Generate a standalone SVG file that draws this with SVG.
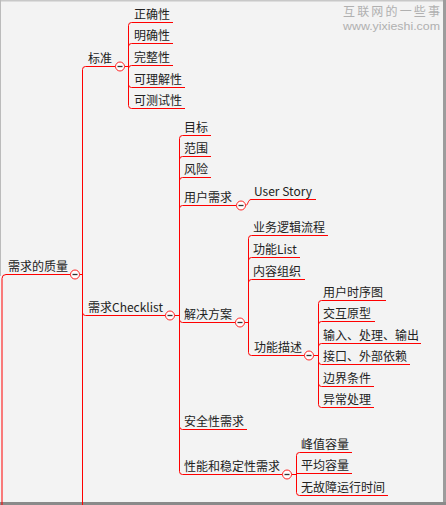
<svg xmlns="http://www.w3.org/2000/svg" width="446" height="505" viewBox="0 0 446 505">
<style>
.t{font-family:"Noto Sans CJK SC","Noto Sans",sans-serif;font-size:12px;fill:#222}
.ln{fill:none;stroke:#ff0000;stroke-width:1}
.c{fill:#fff;stroke:#ff2020;stroke-width:1}
.m{stroke:#333;stroke-width:1.3}
.wm{fill:#b0b0b0}
</style>
<defs>
<g id="col"><circle class="c" cx="0" cy="0" r="4.5"/><line class="m" x1="-2.5" y1="0" x2="2.5" y2="0"/></g>
</defs>
<rect x="0" y="0" width="446" height="505" fill="#f3f3f3"/>
<rect x="0" y="0" width="446" height="1.5" fill="#c8c8c8"/>
<rect x="443" y="0" width="3" height="505" fill="#9c9c9c"/>
<rect x="0" y="502" width="446" height="3" fill="#8a8a8a"/>
<line x1="0.5" y1="0" x2="0.5" y2="276" stroke="#bbbbbb" stroke-width="1"/>
<g id="watermark">
<text class="wm" x="343" y="16" font-family="'Noto Sans CJK SC', sans-serif" font-size="12" textLength="97" lengthAdjust="spacing">互联网的一些事</text>
<text class="wm" x="343" y="29.5" font-family="'Liberation Sans', sans-serif" font-size="11" textLength="97" lengthAdjust="spacingAndGlyphs">www.yixieshi.com</text>
</g>
<g id="connectors">
<path class="ln" d="M2,505 V278.5 Q2,274.5 6,274.5 H70.5" stroke-width="1.5"/>
<line class="ln" x1="79.5" y1="274.5" x2="82.5" y2="274.5"/>
<path class="ln" d="M82.5,505 V69.5"/>
<path class="ln" d="M82.5,69.5 Q82.5,66.5 85.5,66.5 H115.5"/>
<path class="ln" d="M82.5,312.5 Q82.5,315.5 85.5,315.5 H165.5"/>
<line class="ln" x1="124.5" y1="66.5" x2="128.5" y2="66.5"/>
<path class="ln" d="M128.5,25.5 V105.5"/>
<path class="ln" d="M128.5,25.5 Q128.5,22.5 131.5,22.5 H173"/>
<path class="ln" d="M128.5,46.5 Q128.5,43.5 131.5,43.5 H173"/>
<path class="ln" d="M128.5,68.5 Q128.5,65.5 131.5,65.5 H173"/>
<path class="ln" d="M128.5,84.5 Q128.5,87.5 131.5,87.5 H185"/>
<path class="ln" d="M128.5,105.5 Q128.5,108.5 131.5,108.5 H185"/>
<line class="ln" x1="174.5" y1="315.5" x2="179.5" y2="315.5"/>
<path class="ln" d="M179.5,138.5 V471.5"/>
<path class="ln" d="M179.5,138.5 Q179.5,135.5 182.5,135.5 H211"/>
<path class="ln" d="M179.5,159.5 Q179.5,156.5 182.5,156.5 H211"/>
<path class="ln" d="M179.5,180.5 Q179.5,177.5 182.5,177.5 H211"/>
<path class="ln" d="M179.5,208.5 Q179.5,205.5 182.5,205.5 H236.5"/>
<path class="ln" d="M179.5,319.5 Q179.5,322.5 182.5,322.5 H235.5"/>
<path class="ln" d="M179.5,426.5 Q179.5,429.5 182.5,429.5 H247"/>
<path class="ln" d="M179.5,471.5 Q179.5,474.5 182.5,474.5 H282.5"/>
<path class="ln" d="M245.5,205.5 C248,205.5 248,199.5 251,199.5 H316"/>
<line class="ln" x1="244.5" y1="322.5" x2="248.5" y2="322.5"/>
<path class="ln" d="M248.5,238.5 V352.5"/>
<path class="ln" d="M248.5,238.5 Q248.5,235.5 251.5,235.5 H328"/>
<path class="ln" d="M248.5,260.5 Q248.5,257.5 251.5,257.5 H300"/>
<path class="ln" d="M248.5,282.5 Q248.5,279.5 251.5,279.5 H305"/>
<path class="ln" d="M248.5,352.5 Q248.5,355.5 251.5,355.5 H304.5"/>
<line class="ln" x1="313.5" y1="355.5" x2="318.5" y2="355.5"/>
<path class="ln" d="M318.5,303.5 V404.5"/>
<path class="ln" d="M318.5,303.5 Q318.5,300.5 321.5,300.5 H386"/>
<path class="ln" d="M318.5,324.5 Q318.5,321.5 321.5,321.5 H375"/>
<path class="ln" d="M318.5,346.5 Q318.5,343.5 321.5,343.5 H421"/>
<path class="ln" d="M318.5,361.5 Q318.5,364.5 321.5,364.5 H410"/>
<path class="ln" d="M318.5,383.5 Q318.5,386.5 321.5,386.5 H374"/>
<path class="ln" d="M318.5,404.5 Q318.5,407.5 321.5,407.5 H374"/>
<line class="ln" x1="291.5" y1="474.5" x2="296.5" y2="474.5"/>
<path class="ln" d="M296.5,455.5 V492.5"/>
<path class="ln" d="M296.5,455.5 Q296.5,452.5 299.5,452.5 H352"/>
<path class="ln" d="M296.5,473.5 H352"/>
<path class="ln" d="M296.5,492.5 Q296.5,495.5 299.5,495.5 H388"/>
</g>
<g id="n-root"><text class="t" x="8" y="270.5">需求的质量</text><use href="#col" x="75" y="274.5"/></g>
<g id="n-biaozhun"><text class="t" x="88" y="62.5">标准</text><use href="#col" x="120" y="66.5"/></g>
<g id="n-zqx"><text class="t" x="134" y="18.5">正确性</text></g>
<g id="n-mqx"><text class="t" x="134" y="39.5">明确性</text></g>
<g id="n-wzx"><text class="t" x="134" y="61.5">完整性</text></g>
<g id="n-kljx"><text class="t" x="134" y="83.5">可理解性</text></g>
<g id="n-kcsx"><text class="t" x="134" y="104.5">可测试性</text></g>
<g id="n-checklist"><text class="t" x="88" y="311.5">需求Checklist</text><use href="#col" x="170" y="315.5"/></g>
<g id="n-mb"><text class="t" x="184" y="131.5">目标</text></g>
<g id="n-fw"><text class="t" x="184" y="152.5">范围</text></g>
<g id="n-fx"><text class="t" x="184" y="173.5">风险</text></g>
<g id="n-yhxq"><text class="t" x="184" y="201.5">用户需求</text><use href="#col" x="241" y="205.5"/></g>
<g id="n-us"><text class="t" x="254" y="195.5">User Story</text></g>
<g id="n-jjfa"><text class="t" x="184" y="318.5">解决方案</text><use href="#col" x="240" y="322.5"/></g>
<g id="n-ywlj"><text class="t" x="253" y="231.5">业务逻辑流程</text></g>
<g id="n-gnlist"><text class="t" x="253" y="253.5">功能List</text></g>
<g id="n-nrzz"><text class="t" x="253" y="275.5">内容组织</text></g>
<g id="n-gnms"><text class="t" x="254" y="351.5">功能描述</text><use href="#col" x="309" y="355.5"/></g>
<g id="n-yhsxt"><text class="t" x="323" y="296.5">用户时序图</text></g>
<g id="n-jhyx"><text class="t" x="323" y="317.5">交互原型</text></g>
<g id="n-srcl"><text class="t" x="323" y="339.5">输入、处理、输出</text></g>
<g id="n-jk"><text class="t" x="323" y="360.5">接口、外部依赖</text></g>
<g id="n-bjtj"><text class="t" x="323" y="382.5">边界条件</text></g>
<g id="n-yccl"><text class="t" x="323" y="403.5">异常处理</text></g>
<g id="n-aqx"><text class="t" x="184" y="425.5">安全性需求</text></g>
<g id="n-xn"><text class="t" x="184" y="470.5">性能和稳定性需求</text><use href="#col" x="287" y="474.5"/></g>
<g id="n-fzrl"><text class="t" x="301" y="448.5">峰值容量</text></g>
<g id="n-pjrl"><text class="t" x="301" y="469.5">平均容量</text></g>
<g id="n-wgz"><text class="t" x="301" y="491.5">无故障运行时间</text></g>
</svg>
